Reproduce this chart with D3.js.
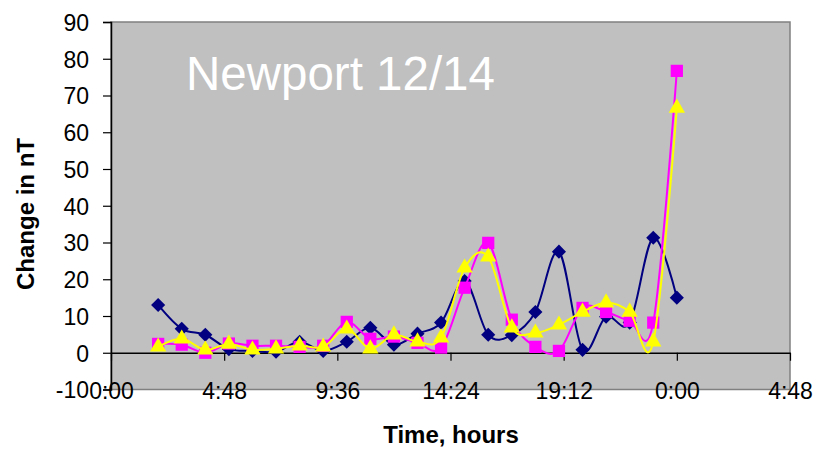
<!DOCTYPE html>
<html>
<head>
<meta charset="utf-8">
<script src="https://cdn.jsdelivr.net/npm/d3@7"></script>
<style>
  html, body { margin: 0; padding: 0; background: #fff; }
  svg { display: block; font-family: "Liberation Sans", Arial, sans-serif; }
</style>
</head>
<body>
<svg id="chart" width="819" height="449"></svg>
<script>
// Hourly readings (hours since midnight)
const hours = [2, 3, 4, 5, 6, 7, 8, 9, 10, 11, 12, 13, 14, 15, 16, 17, 18, 19, 20, 21, 22, 23, 24];

// Change in nT for each of the three series
const seriesNavy = [13.0, 6.5, 4.9, 1.0, 0.5, 0.3, 3.0, 0.5, 3.0, 6.8, 2.2, 5.2, 8.2, 19.5, 4.9, 4.8, 11.1, 27.5, 0.8, 9.8, 8.2, 31.3, 15.0];
const seriesMagenta = [2.4, 2.2, 0.0, 2.5, 1.9, 1.9, 1.6, 1.9, 8.4, 3.8, 4.4, 2.7, 1.4, 17.7, 29.9, 9.0, 1.6, 0.5, 12.2, 11.1, 8.7, 8.2, 76.7];
const seriesYellow = [1.6, 3.8, 0.8, 2.4, 0.8, 1.1, 1.9, 1.6, 6.5, 1.1, 4.9, 3.0, 4.1, 23.1, 26.1, 6.8, 5.4, 7.6, 11.1, 13.6, 11.1, 3.0, 66.6];

// Axis ticks
const xTickValues = [0, 4.8, 9.6, 14.4, 19.2, 24, 28.8];
const xTickLabels = ["0:00", "4:48", "9:36", "14:24", "19:12", "0:00", "4:48"];
const yTickValues = [-10, 0, 10, 20, 30, 40, 50, 60, 70, 80, 90];

const svg = d3.select("#chart");

const plotLeft = 111, plotRight = 790, plotTop = 22, plotBottom = 389.5;

const x = d3.scaleLinear().domain([0, 28.8]).range([plotLeft, plotRight]);
const y = d3.scaleLinear().domain([-10, 90]).range([plotBottom, plotTop]);

// Plot area
svg.append("rect")
  .attr("x", plotLeft).attr("y", plotTop)
  .attr("width", plotRight - plotLeft).attr("height", plotBottom - plotTop)
  .attr("fill", "#C0C0C0")
  .attr("stroke", "#808080")
  .attr("stroke-width", 1.5);

// Chart title inside the plot area
svg.append("text")
  .attr("x", 186).attr("y", 90)
  .attr("fill", "#ffffff")
  .attr("font-size", 47.5)
  .text("Newport 12/14");

// Y axis
const yAxis = d3.axisLeft(y)
  .tickValues(yTickValues)
  .tickSize(8)
  .tickPadding(14)
  .tickFormat(d => String(d));
const gy = svg.append("g")
  .attr("transform", `translate(${plotLeft},0)`)
  .call(yAxis);
gy.select(".domain").attr("stroke", "#000").attr("stroke-width", 1.5);
gy.selectAll(".tick line").attr("stroke", "#000").attr("stroke-width", 1.2);
gy.selectAll(".tick text")
  .attr("font-size", 23)
  .attr("font-family", "Liberation Sans, Arial, sans-serif")
  .attr("fill", "#000")
  .attr("dy", "0.36em");

// X axis crossing at zero
const xAxis = d3.axisBottom(x)
  .tickValues(xTickValues)
  .tickSize(8)
  .tickSizeOuter(0)
  .tickFormat((d, i) => xTickLabels[i]);
const gx = svg.append("g")
  .attr("transform", `translate(0,${y(0)})`)
  .call(xAxis);
gx.select(".domain").attr("stroke", "#000").attr("stroke-width", 1.5);
gx.selectAll(".tick line").attr("stroke", "#000").attr("stroke-width", 1.2);
gx.selectAll(".tick text")
  .attr("font-size", 23)
  .attr("font-family", "Liberation Sans, Arial, sans-serif")
  .attr("fill", "#000")
  .attr("y", plotBottom - y(0) + 9)
  .attr("dy", "0");

// Axis titles
svg.append("text")
  .attr("x", 451).attr("y", 443)
  .attr("text-anchor", "middle")
  .attr("font-size", 24)
  .attr("font-weight", "bold")
  .text("Time, hours");

svg.append("text")
  .attr("transform", "translate(34,214) rotate(-90)")
  .attr("text-anchor", "middle")
  .attr("font-size", 24)
  .attr("font-weight", "bold")
  .text("Change in nT");

// Series
const line = d3.line()
  .x(d => x(d[0]))
  .y(d => y(d[1]))
  .curve(d3.curveCardinal.tension(0));

const series = [
  { values: seriesNavy, color: "#000080", symbol: d3.symbolSquare, size: 100, rotate: 45 },
  { values: seriesMagenta, color: "#FF00FF", symbol: d3.symbolSquare, size: 150, rotate: 0 },
  { values: seriesYellow, color: "#FFFF00", symbol: d3.symbolTriangle, size: 115, rotate: 0 }
];

series.forEach(s => {
  const pts = hours.map((h, i) => [h, s.values[i]]);
  const g = svg.append("g");
  g.append("path")
    .datum(pts)
    .attr("d", line)
    .attr("fill", "none")
    .attr("stroke", s.color)
    .attr("stroke-width", 2);
  const sym = d3.symbol().type(s.symbol).size(s.size);
  g.selectAll("path.marker")
    .data(pts)
    .join("path")
    .attr("class", "marker")
    .attr("d", sym)
    .attr("transform", d => `translate(${x(d[0])},${y(d[1])}) rotate(${s.rotate})`)
    .attr("fill", s.color);
});
</script>
</body>
</html>
